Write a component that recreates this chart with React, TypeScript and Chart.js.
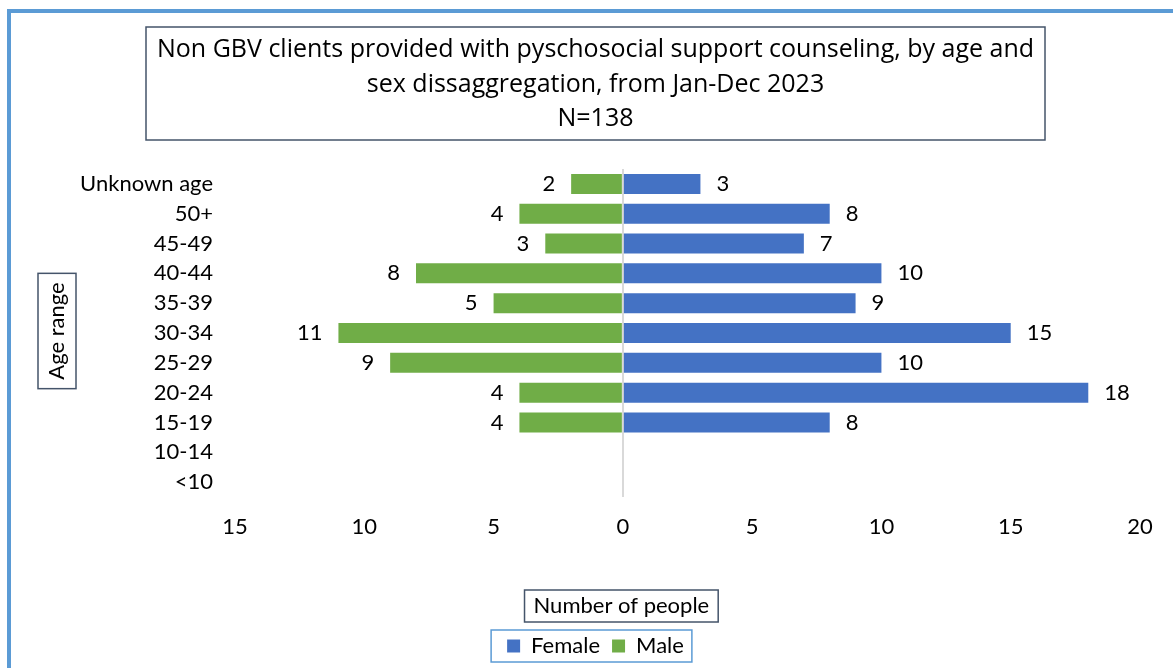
import React, { useEffect, useRef } from 'react';
import { Chart, registerables } from 'chart.js';

Chart.register(...registerables);

const ageGroups = ['Unknown age', '50+', '45-49', '40-44', '35-39', '30-34', '25-29', '20-24', '15-19', '10-14', '<10'];
const femaleCounts: (number | null)[] = [3, 8, 7, 10, 9, 15, 10, 18, 8, null, null];
const maleCounts: (number | null)[] = [2, 4, 3, 8, 5, 11, 9, 4, 4, null, null];
const seriesNames = ['Female', 'Male'];
const seriesColors = ['#4472C4', '#70AD47'];
const titleLines = [
  'Non GBV clients provided with pyschosocial support counseling, by age and',
  'sex dissaggregation, from Jan-Dec 2023',
  'N=138',
];
const xAxisTitle = 'Number of people';
const yAxisTitle = 'Age range';
const xMin = -15;
const xMax = 20;
const xStep = 5;

const FONT = 'Lato, "Open Sans", sans-serif';
const TITLE_FONT = '"Open Sans", Lato, sans-serif';
const FS = 22;
const TFS = 25;

const decorPlugin = {
  id: 'decor',
  afterDatasetsDraw(chart: any) {
    const ctx = chart.ctx;
    ctx.save();
    ctx.font = `${FS}px ${FONT}`;
    ctx.fillStyle = '#000';
    ctx.textBaseline = 'middle';
    chart.data.datasets.forEach((ds: any, di: number) => {
      const meta = chart.getDatasetMeta(di);
      meta.data.forEach((el: any, i: number) => {
        const v = ds.data[i];
        if (v === null || v === undefined) return;
        const txt = String(Math.abs(v));
        if (v >= 0) {
          ctx.textAlign = 'left';
          ctx.fillText(txt, el.x + 16, el.y);
        } else {
          ctx.textAlign = 'right';
          ctx.fillText(txt, el.x - 16, el.y);
        }
      });
    });
    ctx.restore();
  },
  afterDraw(chart: any) {
    const ctx = chart.ctx;
    const ca = chart.chartArea;
    ctx.save();
    // Title box
    const tb = chart.titleBlock;
    const cx = tb.left + tb.width / 2;
    ctx.strokeStyle = '#44546A';
    ctx.lineWidth = 1.5;
    ctx.strokeRect(cx - 449.5, tb.top + 27, 899, 113);

    ctx.font = `${FS}px ${FONT}`;
    ctx.fillStyle = '#000';
    ctx.textBaseline = 'middle';
    ctx.textAlign = 'center';

    // X axis title
    const zeroX = chart.scales.x.getPixelForValue(0);
    const xtx = zeroX - 1.5;
    const xty = ca.bottom + 109;
    const xw = ctx.measureText(xAxisTitle).width;
    ctx.fillText(xAxisTitle, xtx, xty);
    ctx.strokeRect(xtx - xw / 2 - 9, xty - 16, xw + 18, 32);

    // Y axis title
    const ytx = ca.left - 178;
    const yty = (ca.top + ca.bottom) / 2 - 2;
    const yw = ctx.measureText(yAxisTitle).width;
    ctx.save();
    ctx.translate(ytx, yty);
    ctx.rotate(-Math.PI / 2);
    ctx.fillText(yAxisTitle, 0, 0);
    ctx.restore();
    ctx.strokeRect(ytx - 19, yty - yw / 2 - 9, 38, yw + 18);

    // Legend box
    const hbs = chart.legend && chart.legend.legendHitBoxes;
    if (hbs && hbs.length) {
      const first = hbs[0];
      const last = hbs[hbs.length - 1];
      const cy = first.top + first.height / 2;
      ctx.strokeStyle = '#5B9BD5';
      ctx.lineWidth = 1.5;
      const l = first.left - 16;
      const r = last.left + last.width + 8;
      ctx.strokeRect(l, cy - 16, r - l, 32);
    }
    ctx.restore();
  },
};

export default function App() {
  const ref = useRef<HTMLCanvasElement>(null);
  useEffect(() => {
    const chart = new Chart(ref.current as HTMLCanvasElement, {
      type: 'bar',
      data: {
        labels: ageGroups,
        datasets: [
          {
            label: seriesNames[0],
            data: femaleCounts,
            backgroundColor: seriesColors[0],
            borderWidth: 0,
            barPercentage: 0.67,
            categoryPercentage: 1,
          },
          {
            label: seriesNames[1],
            data: maleCounts.map((v) => (v === null ? null : -v)),
            backgroundColor: seriesColors[1],
            borderWidth: 0,
            barPercentage: 0.67,
            categoryPercentage: 1,
          },
        ],
      },
      options: {
        indexAxis: 'y',
        animation: false,
        responsive: true,
        maintainAspectRatio: false,
        layout: { padding: { left: 51, right: 33, top: 0, bottom: 1 } },
        plugins: {
          title: {
            display: true,
            text: titleLines,
            color: '#000',
            font: { family: TITLE_FONT, size: TFS, weight: 'normal', lineHeight: 34.5 / TFS },
            padding: { top: 33, bottom: 32.5 },
          },
          legend: {
            display: true,
            position: 'bottom',
            labels: {
              boxWidth: 13,
              boxHeight: 13,
              padding: 12,
              color: '#000',
              font: { family: FONT, size: FS },
            },
          },
          tooltip: { enabled: false },
        },
        scales: {
          x: {
            type: 'linear',
            min: xMin,
            max: xMax,
            stacked: true,
            z: 1,
            border: { display: false },
            grid: {
              drawTicks: false,
              lineWidth: 2,
              color: (c: any) => (c.tick && c.tick.value === 0 ? '#D9D9D9' : 'rgba(0,0,0,0)'),
            },
            ticks: {
              stepSize: xStep,
              padding: 17,
              color: '#000',
              font: { family: FONT, size: FS },
              callback: (v: any) => String(Math.abs(Number(v))),
            },
            afterFit: (s: any) => {
              s.height = 126;
            },
          },
          y: {
            type: 'category',
            stacked: true,
            border: { display: false },
            grid: { display: false, drawTicks: false },
            ticks: {
              padding: 22,
              color: '#000',
              font: { family: FONT, size: FS },
            },
            afterFit: (s: any) => {
              s.width = 184;
            },
          },
        },
      },
      plugins: [decorPlugin],
    } as any);
    return () => chart.destroy();
  }, []);

  return (
    <div style={{ position: 'fixed', left: 0, top: 0, width: 1173, height: 668, overflow: 'hidden', background: '#fff' }}>
      <div
        style={{
          position: 'absolute',
          left: 7,
          top: 9,
          width: 1400,
          height: 900,
          border: '4px solid #5B9BD5',
          boxSizing: 'border-box',
        }}
      />
      <div style={{ position: 'absolute', left: 0, top: 0, width: 1173, height: 668 }}>
        <canvas ref={ref} />
      </div>
    </div>
  );
}
